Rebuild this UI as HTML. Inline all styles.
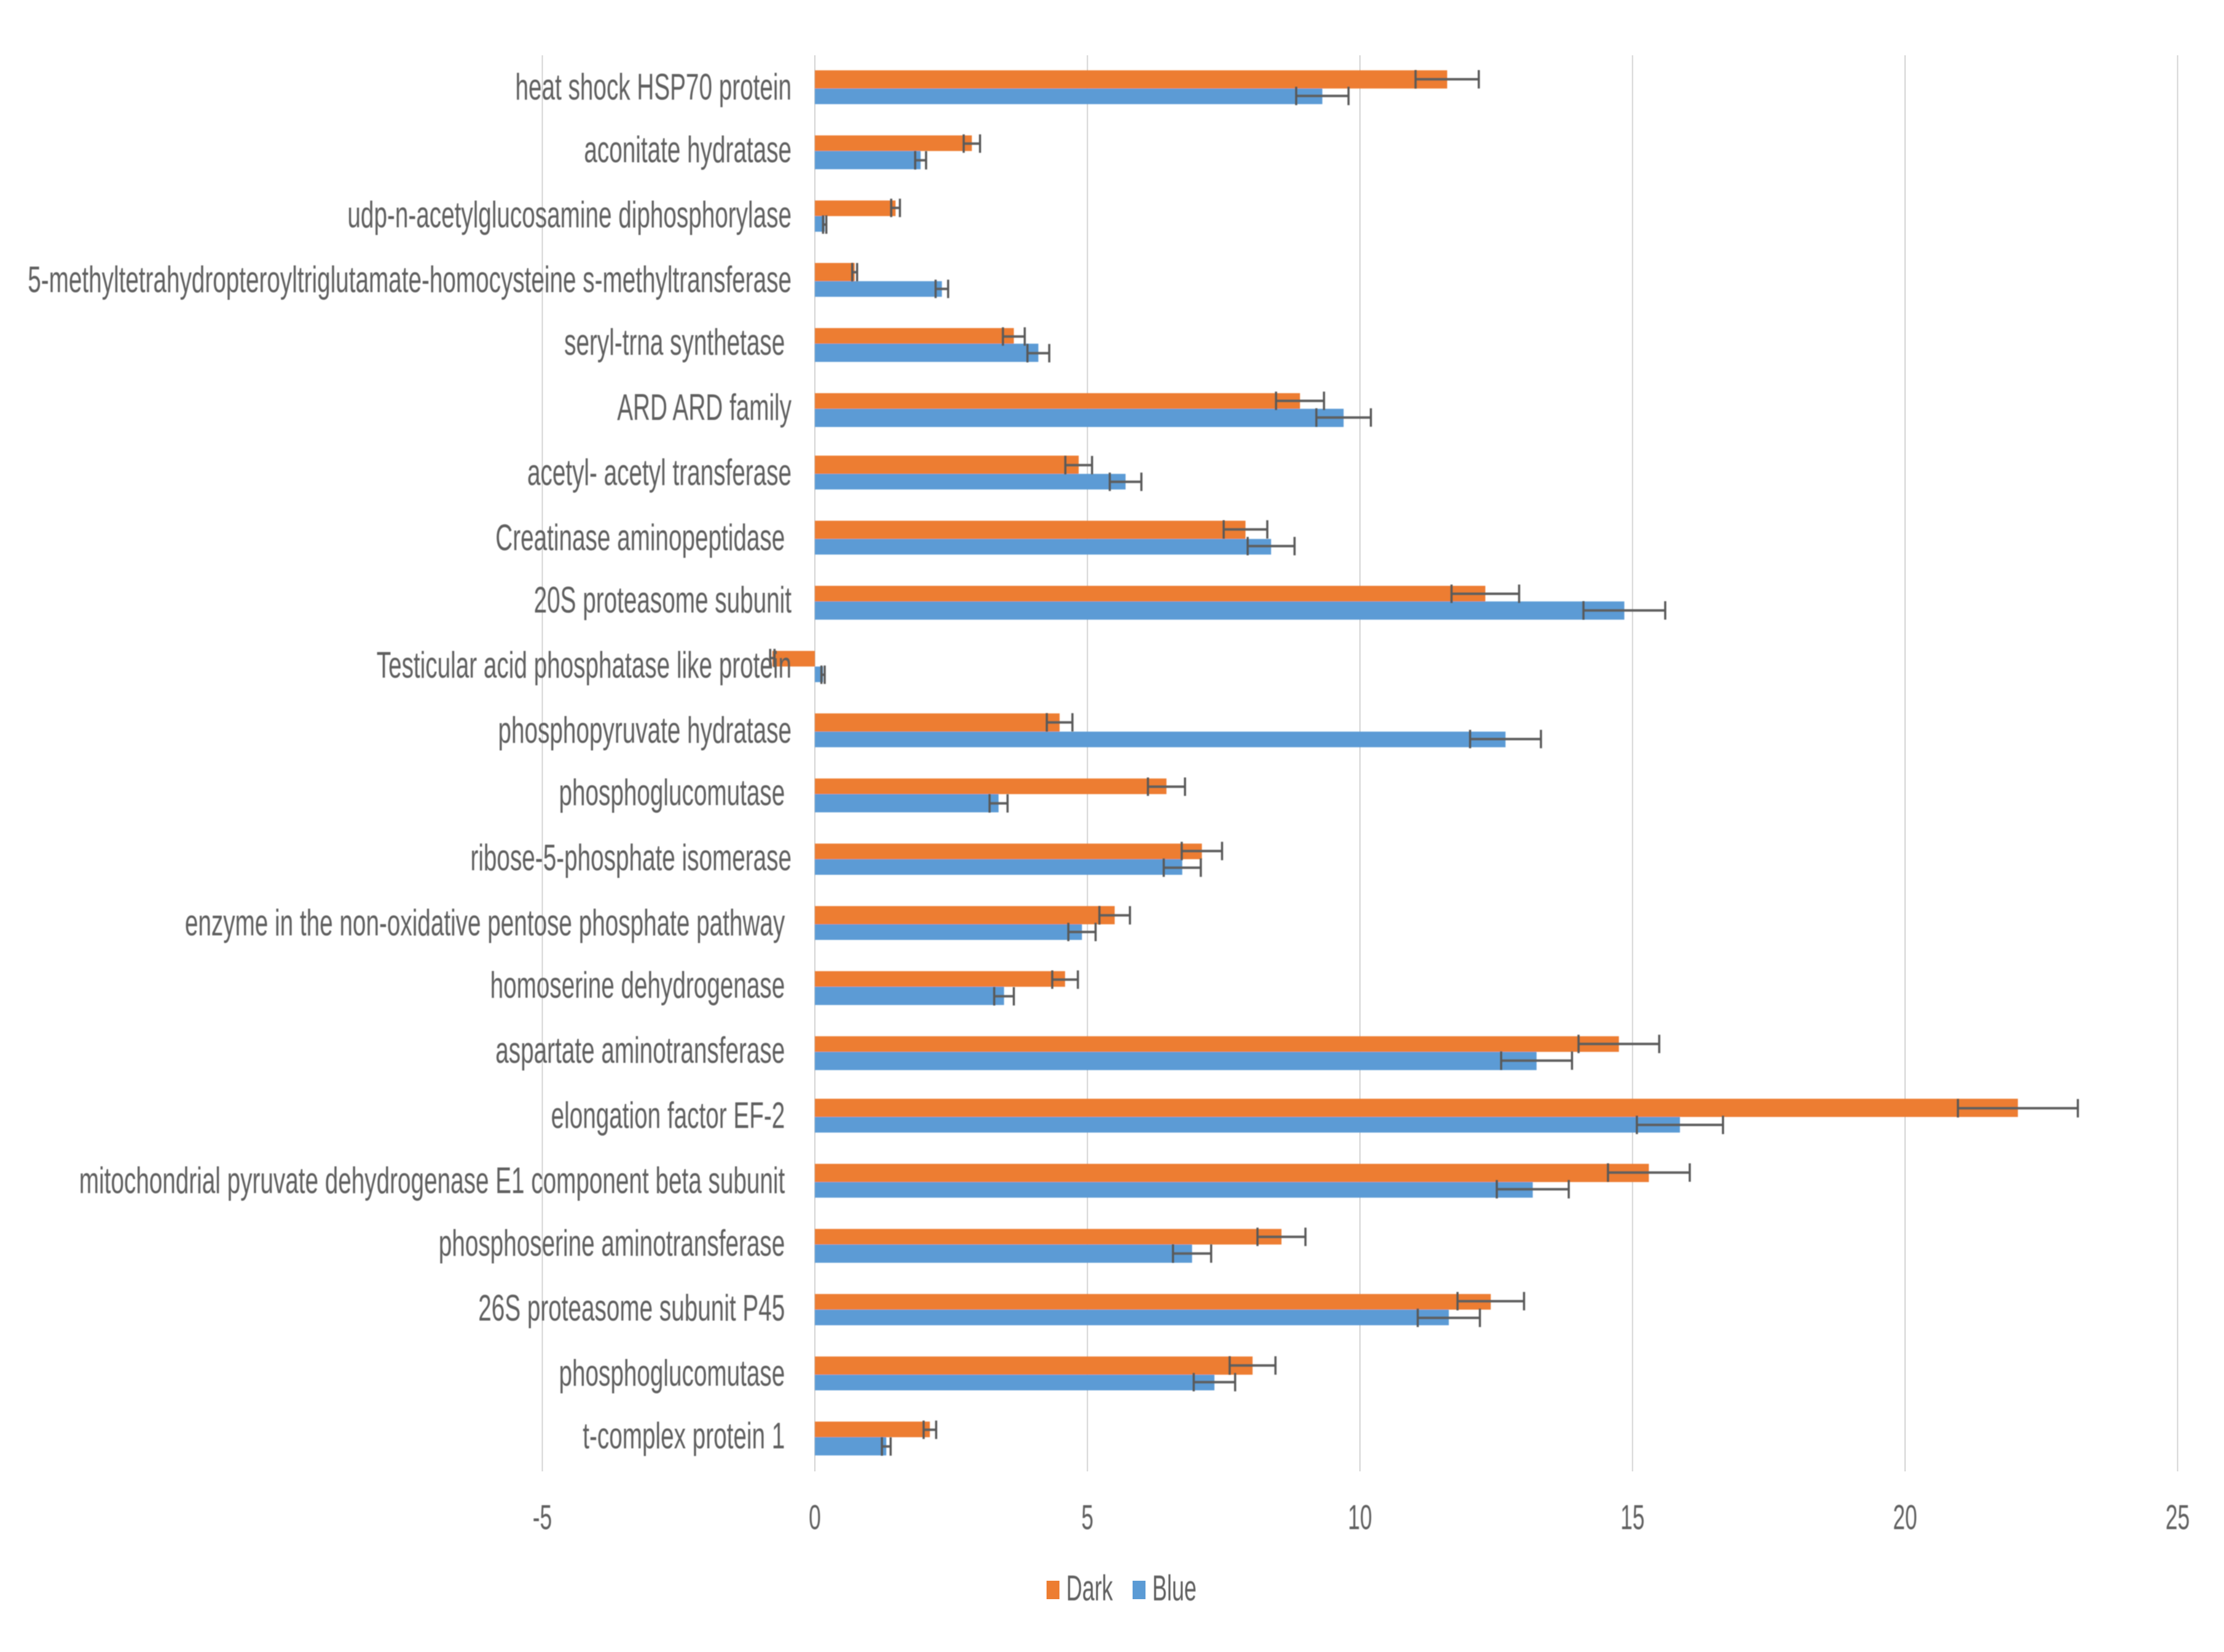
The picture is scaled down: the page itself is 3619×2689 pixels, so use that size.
<!DOCTYPE html>
<html lang="en">
<head>
<meta charset="utf-8">
<title>Protein expression: Dark vs Blue</title>
<style>
html,body{margin:0;padding:0;background:#fff;width:3619px;height:2689px;overflow:hidden}
svg{display:block}
text{font-family:"Liberation Sans","DejaVu Sans",sans-serif;fill:#5f5f5f;white-space:pre}
</style>
</head>
<body>
<svg id="chart" xmlns="http://www.w3.org/2000/svg" width="3619" height="2689" viewBox="0 0 3619 2689">
<defs>
  <filter id="soft" x="-5%" y="-20%" width="110%" height="140%"><feGaussianBlur stdDeviation="0.9"></feGaussianBlur></filter>
  <filter id="softMarks" filterUnits="userSpaceOnUse" x="0" y="0" width="3619" height="2689"><feGaussianBlur stdDeviation="0.8"></feGaussianBlur></filter>
</defs>
<rect width="3619" height="2689" fill="#ffffff"></rect>
<g id="grid"></g>
<g id="bars" filter="url(#softMarks)"></g>
<g id="errors" filter="url(#softMarks)"></g>
<g id="cats" filter="url(#soft)"></g>
<g id="ticks" filter="url(#soft)"></g>
<g>
  <rect x="1703" y="2573" width="21" height="30" fill="#ed7d31"></rect>
  <text filter="url(#soft)" transform="translate(1735,2605) scale(0.62,1)" font-size="58">Dark</text>
  <rect x="1843" y="2573" width="21" height="30" fill="#5b9bd5"></rect>
  <text filter="url(#soft)" transform="translate(1875,2605) scale(0.62,1)" font-size="58">Blue</text>
</g>
</svg>
<script>
const categories = [
  "heat shock HSP70 protein",
  "aconitate hydratase",
  "udp-n-acetylglucosamine diphosphorylase",
  "5-methyltetrahydropteroyltriglutamate-homocysteine s-methyltransferase",
  "seryl-trna synthetase ",
  "ARD ARD family",
  "acetyl- acetyl transferase",
  "Creatinase aminopeptidase ",
  "20S proteasome subunit",
  "Testicular acid phosphatase like protein",
  "phosphopyruvate hydratase",
  "phosphoglucomutase ",
  "ribose-5-phosphate isomerase",
  "enzyme in the non-oxidative pentose phosphate pathway ",
  "homoserine dehydrogenase ",
  "aspartate aminotransferase ",
  "elongation factor EF-2 ",
  "mitochondrial pyruvate dehydrogenase E1 component beta subunit ",
  "phosphoserine aminotransferase ",
  "26S proteasome subunit P45 ",
  "phosphoglucomutase ",
  "t-complex protein 1 "
];
const darkValues = [11.6,2.88,1.48,0.73,3.65,8.9,4.84,7.9,12.3,-0.78,4.49,6.45,7.1,5.5,4.59,14.75,22.07,15.3,8.56,12.4,8.03,2.11];
const blueValues = [9.31,1.94,0.18,2.33,4.1,9.7,5.7,8.37,14.85,0.15,12.67,3.37,6.74,4.9,3.47,13.24,15.87,13.17,6.92,11.63,7.33,1.31];
const darkErrors = [0.58,0.15,0.08,0.045,0.2,0.44,0.245,0.4,0.62,0.04,0.235,0.34,0.37,0.28,0.235,0.74,1.1,0.75,0.44,0.61,0.42,0.115];
const blueErrors = [0.48,0.1,0.03,0.115,0.2,0.5,0.29,0.43,0.75,0.03,0.65,0.165,0.34,0.25,0.18,0.65,0.79,0.66,0.35,0.57,0.38,0.08];
const xTicks = [-5,0,5,10,15,20,25];

const NS = "http://www.w3.org/2000/svg";
const X0 = 1326, PX_PER_UNIT = 88.7;
const GRID_TOP = 90, GRID_BOTTOM = 2395;
const SRC = 4.238;               /* the reference is an upscaled raster: bar edges land on this pixel grid */
const ROW0 = 33.65 * SRC, ROW_STEP = 24.7 * SRC, BAR_H = 6.4 * SRC, ERR_OFF = 3.2 * SRC;
const TEXT_SX = 0.645;
function xScale(v){ return X0 + v * PX_PER_UNIT; }
function rowY(i){ return ROW0 + i * ROW_STEP; }
function snap(y){ return Math.round(y / SRC) * SRC; }
function mk(tag, attrs, parent){
  const el = document.createElementNS(NS, tag);
  for (const k in attrs) el.setAttribute(k, attrs[k]);
  parent.appendChild(el);
  return el;
}
const gridG = document.getElementById("grid");
const barsG = document.getElementById("bars");
const errG = document.getElementById("errors");
const catG = document.getElementById("cats");
const tickG = document.getElementById("ticks");

xTicks.forEach(function(t){
  const line = mk("line", {x1:xScale(t), x2:xScale(t), y1:GRID_TOP, y2:GRID_BOTTOM, stroke:"#d4d4d4", "stroke-width":2}, gridG);
  
  
  const label = mk("text", {transform:"translate("+xScale(t)+","+(GRID_BOTTOM+94)+") scale(0.62,1)", "text-anchor":"middle", "font-size":57}, tickG);
  label.textContent = String(t);
  
  
});

function drawBar(v, top, bottom, fill){
  const a = xScale(Math.min(0, v)), b = xScale(Math.max(0, v));
  return mk("rect", {x:a, y:top, width:b-a, height:bottom-top, fill:fill}, barsG);
}
function drawError(v, e, cy){
  const lo = xScale(v - e), hi = xScale(v + e), c = 15;
  const g = mk("g", {stroke:"#585858", "stroke-width":3.5}, errG);
  mk("line", {x1:lo, x2:hi, y1:cy, y2:cy, "stroke-width":4, stroke:"#5f5f5f"}, g);
  mk("line", {x1:lo, x2:lo, y1:cy-c, y2:cy+c}, g);
  mk("line", {x1:hi, x2:hi, y1:cy-c, y2:cy+c}, g);
  return g;
}
categories.forEach(function(name, i){
  const y = rowY(i);
  const mid = snap(y);
  const darkBar = drawBar(darkValues[i], snap(y - BAR_H), mid, "#ed7d31");
  
  
  const blueBar = drawBar(blueValues[i], mid, snap(y + BAR_H), "#5b9bd5");
  
  
  const darkErr = drawError(darkValues[i], darkErrors[i], y - ERR_OFF);
  
  
  const blueErr = drawError(blueValues[i], blueErrors[i], y + ERR_OFF);
  
  
  const label = mk("text", {transform:"translate(1288,"+(mid+18)+") scale("+TEXT_SX+",1)", "text-anchor":"end", "font-size":60}, catG);
  label.textContent = name;
  
  
});
</script>
</body>
</html>
